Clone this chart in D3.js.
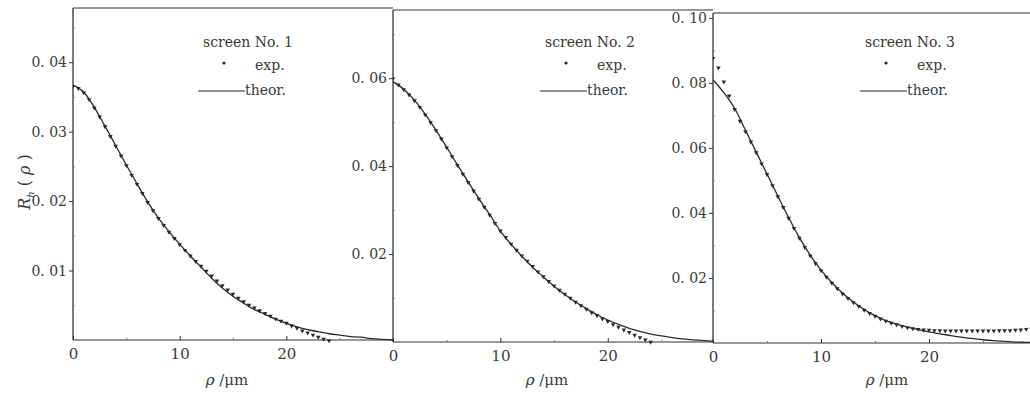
<!DOCTYPE html>
<html>
<head>
<meta charset="utf-8">
<script src="https://cdn.jsdelivr.net/npm/d3@7"></script>
<style>
  body { margin: 0; background: #fff; }
  svg text { font-family: "DejaVu Serif", serif !important; }
</style>
</head>
<body>
<div id="chart"></div>
<script>
// theoretical curves, rho = 0..30 um
var theorX = d3.range(0, 31, 1);
var theor1 = [.0367, .0357, .0335, .0308, .0280, .0252, .0225, .0199, .0176, .0156, .0138,
    .0121, .0105, .0089, .0075, .0063, .0053, .0044, .0037, .0030, .0024,
    .0019, .0015, .0012, .0009, .0007, .0005, .0004, .0002, .0001, .0000];
var theor2 = [.0592, .0575, .0550, .0518, .0482, .0443, .0403, .0364, .0326, .0290, .0252,
    .0222, .0195, .0170, .0148, .0127, .0108, .0091, .0076, .0062, .0050,
    .0040, .0031, .0024, .0018, .0014, .0010, .0007, .0005, .0003, .0002];
var theor3 = [.0810, .0770, .0722, .0655, .0587, .0520, .0452, .0386, .0324, .0270, .0224,
    .0186, .0153, .0126, .0103, .0084, .0069, .0058, .0049, .0041, .0034,
    .0028, .0023, .0018, .0014, .0010, .0007, .0005, .0003, .0002, .0001];

// measured points, every 0.5 um
var exp1 = [.0366, .0363, .0357, .0347, .0335, .0322, .0308, .0294, .0280, .0266,
    .0252, .0238, .0225, .0212, .0199, .0187, .0176, .0166, .0156, .0147,
    .0138, .0130, .0122, .0114, .0107, .0100, .0093, .0086, .0079, .0073,
    .0067, .0061, .0056, .0051, .0047, .0043, .0039, .0035, .0031, .0028,
    .0025, .0021, .0018, .0014, .0011, .0008, .0005, .0002, .0000];
var exp2 = [.0600, .0586, .0575, .0563, .0550, .0535, .0518, .0500, .0482, .0463,
    .0443, .0423, .0403, .0383, .0364, .0345, .0326, .0308, .0290, .0271,
    .0254, .0239, .0224, .0210, .0197, .0185, .0173, .0161, .0150, .0139,
    .0129, .0119, .0110, .0101, .0092, .0084, .0076, .0068, .0061, .0054,
    .0048, .0041, .0035, .0029, .0023, .0017, .0011, .0006, .0001];
var exp3 = [.0877, .0848, .0805, .0762, .0720, .0684, .0652, .0620, .0587, .0553,
    .0520, .0486, .0452, .0419, .0386, .0354, .0324, .0296, .0270, .0246,
    .0224, .0204, .0186, .0169, .0153, .0139, .0126, .0114, .0103, .0093,
    .0084, .0076, .0069, .0063, .0058, .0053, .0049, .0046, .0044, .0042,
    .0041, .0040, .0040, .0039, .0039, .0039, .0039, .0039, .0039, .0039,
    .0039, .0039, .0039, .0040, .0040, .0040, .0041, .0042, .0044, .0046];

var yTicks1 = [0.01, 0.02, 0.03, 0.04];
var yTicks2 = [0.02, 0.04, 0.06];
var yTicks3 = [0.02, 0.04, 0.06, 0.08, 0.10];
var xTicks = [0, 10, 20];
var screenNames = ["screen No. 1", "screen No. 2", "screen No. 3"];

var W = 1030, H = 394;
var ink = "#333";
var svg = d3.select("#chart").append("svg")
    .attr("width", W).attr("height", H);

var panels = [
    {left: 73, right: 393, top: 8, bottom: 340, xMax: 30, yMax: 0.0478, theor: theor1, exp: exp1, yTicks: yTicks1, minorY: 0.005, leg: 248, xlab: 227},
    {left: 393, right: 713, top: 10, bottom: 342, xMax: 29.8, yMax: 0.0755, theor: theor2, exp: exp2, yTicks: yTicks2, minorY: 0.01, leg: 590, xlab: 547},
    {left: 713, right: 1030, top: 13, bottom: 343, xMax: 29.35, yMax: 0.1015, theor: theor3, exp: exp3, yTicks: yTicks3, minorY: 0.01, leg: 910, xlab: 887}
];

panels.forEach(function (p, i) {
    var x = d3.scaleLinear().domain([0, p.xMax]).range([p.left, p.right]);
    var y = d3.scaleLinear().domain([0, p.yMax]).range([p.bottom, p.top]);
    var g = svg.append("g");

    g.append("clipPath").attr("id", "clip" + i)
        .append("rect").attr("x", p.left).attr("y", p.top - 5)
        .attr("width", p.right - p.left).attr("height", p.bottom - p.top + 10);

    // frame: left axis, bottom axis, top line
    g.append("line").attr("x1", p.left).attr("x2", p.left).attr("y1", p.top).attr("y2", p.bottom)
        .attr("stroke", ink).attr("stroke-width", 1.3);
    g.append("line").attr("x1", p.left).attr("x2", p.right).attr("y1", p.bottom).attr("y2", p.bottom)
        .attr("stroke", ink).attr("stroke-width", 1.2);
    g.append("line").attr("x1", p.left).attr("x2", p.right).attr("y1", p.top).attr("y2", p.top)
        .attr("stroke", ink).attr("stroke-width", 1.1);

    // x axis
    var xAxis = d3.axisBottom(x).tickValues(xTicks).tickSize(-4).tickPadding(8).tickFormat(d3.format("d"));
    var xa = g.append("g").attr("transform", "translate(0," + p.bottom + ")").call(xAxis);
    xa.select(".domain").remove();
    xa.selectAll("line").attr("stroke", ink);
    xa.selectAll("text").attr("font-size", 15).attr("fill", "#3a3a3a");
    var xMinor = d3.axisBottom(x).tickValues([5, 15, 25].filter(function (v) { return v < p.xMax; }))
        .tickSize(-2).tickFormat("");
    var xm = g.append("g").attr("transform", "translate(0," + p.bottom + ")").call(xMinor);
    xm.select(".domain").remove();
    xm.selectAll("line").attr("stroke", "#777");

    // y axis
    var yAxis = d3.axisLeft(y).tickValues(p.yTicks).tickSize(4).tickPadding(2)
        .tickFormat(function (d) { return d3.format(".2f")(d).replace(".", ". "); });
    var ya = g.append("g").attr("transform", "translate(" + p.left + ",0)").call(yAxis);
    ya.select(".domain").remove();
    ya.selectAll("line").attr("stroke", ink);
    ya.selectAll("text").attr("font-size", 14).attr("fill", "#3a3a3a");
    var minors = d3.range(p.minorY, p.yMax, p.minorY).filter(function (v) {
        return p.yTicks.every(function (t) { return Math.abs(t - v) > 1e-6; });
    });
    var ym = g.append("g").attr("transform", "translate(" + p.left + ",0)")
        .call(d3.axisRight(y).tickValues(minors).tickSize(2).tickFormat(""));
    ym.select(".domain").remove();
    ym.selectAll("line").attr("stroke", "#888");

    // theoretical curve
    var line = d3.line()
        .x(function (d, k) { return x(theorX[k]); })
        .y(function (d) { return y(d); })
        .curve(d3.curveMonotoneX);
    g.append("path").datum(p.theor)
        .attr("clip-path", "url(#clip" + i + ")")
        .attr("d", line).attr("fill", "none")
        .attr("stroke", "#2a2a2a").attr("stroke-width", 1.3);

    // measured points
    var tri = d3.symbol().type(d3.symbolTriangle).size(9);
    g.append("g").attr("clip-path", "url(#clip" + i + ")")
        .selectAll("path").data(p.exp).enter().append("path")
        .attr("d", tri)
        .attr("transform", function (d, k) { return "translate(" + x(k * 0.5) + "," + (y(d) + 0.5) + ") rotate(180)"; })
        .attr("fill", "#2a2a2a");

    // legend
    var lg = g.append("g").attr("transform", "translate(" + p.leg + ",0)").attr("fill", "#3a3a3a");
    lg.append("text").attr("x", 0).attr("y", 47).attr("text-anchor", "middle")
        .attr("font-size", 14).text(screenNames[i]);
    lg.append("circle").attr("cx", -24).attr("cy", 63).attr("r", 1.6).attr("fill", "#2a2a2a");
    lg.append("text").attr("x", 7).attr("y", 70).attr("font-size", 14).text("exp.");
    lg.append("line").attr("x1", -50).attr("x2", -3).attr("y1", 91).attr("y2", 91)
        .attr("stroke", "#2a2a2a").attr("stroke-width", 1.1);
    lg.append("text").attr("x", -3).attr("y", 95).attr("font-size", 14).text("theor.");

    // x label
    var xl = g.append("text").attr("x", p.xlab).attr("y", 385).attr("text-anchor", "middle")
        .attr("font-size", 15).attr("fill", "#3a3a3a");
    xl.append("tspan").attr("font-style", "italic").text("ρ");
    xl.append("tspan").text(" /μm");
});

// y label
var yl = svg.append("text").attr("transform", "translate(30,182) rotate(-90)")
    .attr("text-anchor", "middle").attr("font-size", 16).attr("fill", "#3a3a3a");
yl.append("tspan").attr("font-style", "italic").text("R");
yl.append("tspan").attr("font-size", 10).attr("dy", 4).attr("font-style", "italic").text("h");
yl.append("tspan").attr("dy", -4).text(" ( ");
yl.append("tspan").attr("font-style", "italic").text("ρ");
yl.append("tspan").text(" )");
</script>
</body>
</html>
